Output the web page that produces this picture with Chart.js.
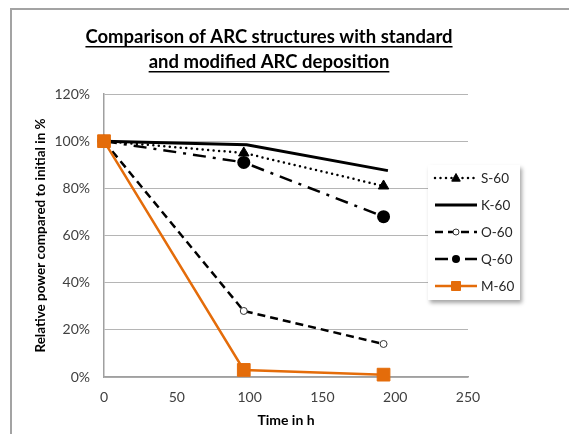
<!DOCTYPE html>
<html>
<head>
<meta charset="utf-8">
<script src="https://cdn.jsdelivr.net/npm/chart.js@4"></script>
<style>
  html, body { margin: 0; padding: 0; background: #fff; overflow: hidden; }
  #frame { position: absolute; left: 10px; top: 8px; width: 620px; height: 520px;
           border-left: 2px solid #a3a3a3; border-top: 2px solid #a3a3a3; }
  canvas { position: absolute; left: 0; top: 0; }
</style>
</head>
<body>
<div id="frame"></div>
<canvas id="chart" width="569" height="434"></canvas>
<script>
// Title lines (underlined, drawn by a small plugin)
const titleLines = ['Comparison of ARC structures with standard', 'and modified ARC deposition'];

// Time in h
const times  = [0, 96, 192];
const kTimes = [0, 98, 195];

// Relative power in %
const s60 = [100, 95, 81];
const k60 = [100, 98.5, 87.5];
const o60 = [100, 28, 14];
const q60 = [100, 91, 68];
const m60 = [100, 3, 1];

const seriesNames = ['S-60', 'K-60', 'O-60', 'Q-60', 'M-60'];

const ORANGE = '#E46C0A';
const FONT = 'Lato';

function pts(xs, ys) {
    return xs.map((x, i) => ({ x, y: ys[i] }));
}

function marker(ctx, style, x, y, r, fill, stroke, bw) {
    ctx.save();
    ctx.setLineDash([]);
    ctx.beginPath();
    if (style === 'triangle') {
        ctx.moveTo(x, y - r);
        ctx.lineTo(x + r * 0.95, y + r * 0.7);
        ctx.lineTo(x - r * 0.95, y + r * 0.7);
        ctx.closePath();
    } else if (style === 'rect') {
        ctx.rect(x - r, y - r, 2 * r, 2 * r);
    } else {
        ctx.arc(x, y, r, 0, Math.PI * 2);
    }
    ctx.fillStyle = fill;
    ctx.fill();
    if (bw) { ctx.lineWidth = bw; ctx.strokeStyle = stroke; ctx.stroke(); }
    ctx.restore();
}

// ─── Underlined two-line title ───────────────────────────────────────────
const underlinedTitle = {
    id: 'underlinedTitle',
    afterDraw(chart) {
        const ctx = chart.ctx;
        ctx.save();
        ctx.font = 'bold 18.5px ' + FONT;
        ctx.fillStyle = '#000';
        ctx.textAlign = 'center';
        ctx.textBaseline = 'alphabetic';
        titleLines.forEach((line, i) => {
            const y = 43 + i * 25;
            ctx.fillText(line, 269, y);
            const w = ctx.measureText(line).width;
            ctx.fillRect(269 - w / 2, y + 3, w, 1.5);
        });
        ctx.restore();
    }
};

// ─── Legend box overlapping the plot (Excel style) ──────────────────────
const legendBox = {
    id: 'legendBox',
    afterDraw(chart) {
        const ctx = chart.ctx;
        ctx.save();
        ctx.shadowColor = 'rgba(0,0,0,0.35)';
        ctx.shadowBlur = 4;
        ctx.shadowOffsetX = 2;
        ctx.shadowOffsetY = 3;
        ctx.fillStyle = '#fff';
        ctx.fillRect(428, 165, 92, 135);
        ctx.restore();

        chart.data.datasets.forEach((ds, i) => {
            const y = 178 + i * 27;
            ctx.save();
            ctx.strokeStyle = ds.borderColor;
            ctx.lineWidth = ds.borderWidth;
            ctx.lineCap = ds.borderCapStyle || 'butt';
            ctx.setLineDash(ds.borderDash || []);
            ctx.beginPath();
            ctx.moveTo(435, y);
            ctx.lineTo(477, y);
            ctx.stroke();
            ctx.restore();
            if (ds.legendRadius) {
                marker(ctx, ds.pointStyle, 456, y, ds.legendRadius,
                       ds.pointBackgroundColor, ds.pointBorderColor, ds.pointBorderWidth);
            }
            ctx.save();
            ctx.font = '13.5px ' + FONT;
            ctx.fillStyle = '#262626';
            ctx.textAlign = 'left';
            ctx.textBaseline = 'middle';
            ctx.fillText(ds.label, 481, y + 1);
            ctx.restore();
        });
    }
};

const datasets = [
    {
        label: seriesNames[0], data: pts(times, s60), order: 1,
        borderColor: '#000', borderWidth: 2.5, borderDash: [0, 5.5], borderCapStyle: 'round',
        pointStyle: 'triangle', pointRadius: 6, pointBackgroundColor: '#000', pointBorderColor: '#000',
        pointBorderWidth: 1, legendRadius: 4.5
    },
    {
        label: seriesNames[1], data: pts(kTimes, k60), order: 2,
        borderColor: '#000', borderWidth: 3, pointRadius: 0
    },
    {
        label: seriesNames[2], data: pts(times, o60), order: 3,
        borderColor: '#000', borderWidth: 2.5, borderDash: [8, 5],
        pointStyle: 'circle', pointRadius: 3.5, pointBackgroundColor: '#fff', pointBorderColor: '#333',
        pointBorderWidth: 1, legendRadius: 3
    },
    {
        label: seriesNames[3], data: pts(times, q60), order: 4,
        borderColor: '#000', borderWidth: 2.5, borderDash: [13, 7, 3, 7],
        pointStyle: 'circle', pointRadius: 6.5, pointBackgroundColor: '#000', pointBorderColor: '#000',
        pointBorderWidth: 0, legendRadius: 4
    },
    {
        label: seriesNames[4], data: pts(times, m60), order: 0,
        borderColor: ORANGE, borderWidth: 2.5,
        pointStyle: 'rect', pointRadius: 9, pointBackgroundColor: ORANGE, pointBorderColor: ORANGE,
        pointBorderWidth: 1, legendRadius: 4.5
    }
];
datasets.forEach(d => { d.tension = 0; d.clip = false; d.fill = false; });

new Chart(document.getElementById('chart').getContext('2d'), {
    type: 'line',
    data: { datasets },
    plugins: [underlinedTitle, legendBox],
    options: {
        responsive: false,
        animation: false,
        layout: { padding: { top: 94, right: 101, bottom: 0, left: 0 } },
        plugins: { legend: { display: false }, title: { display: false }, tooltip: { enabled: false } },
        scales: {
            x: {
                type: 'linear', min: 0, max: 250,
                ticks: { stepSize: 50, color: '#404040', font: { family: FONT, size: 14 }, padding: 12 },
                grid: { display: false, drawTicks: false },
                border: { color: '#a0a0a0', width: 1.5 },
                title: { display: true, text: 'Time in h', color: '#000',
                         font: { family: FONT, size: 14, weight: 'bold' }, padding: { top: 0, bottom: 5 } },
                afterFit: s => { s.height = 57; }
            },
            y: {
                min: 0, max: 120,
                ticks: { stepSize: 20, callback: v => v + '%', color: '#404040',
                         font: { family: FONT, size: 14 }, padding: 14 },
                grid: { color: '#b5b5b5', drawTicks: false, lineWidth: 1 },
                border: { color: '#a0a0a0', width: 1.5 },
                title: { display: true, text: 'Relative power compared to initial in %', color: '#000',
                         font: { family: FONT, size: 13.5, weight: 'bold' }, padding: { top: 33, bottom: 0 } },
                afterFit: s => { s.width = 104; }
            }
        }
    }
});
</script>
</body>
</html>
